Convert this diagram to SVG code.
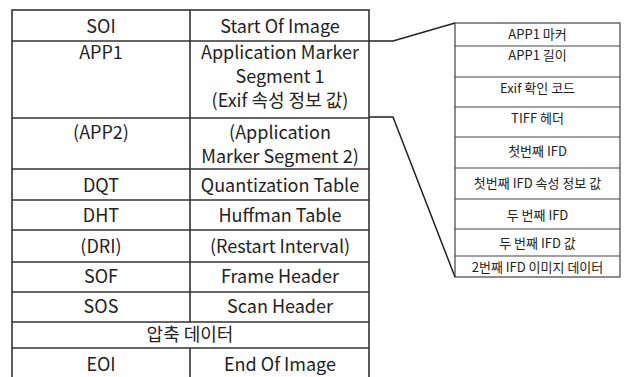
<svg xmlns="http://www.w3.org/2000/svg" width="624" height="377" viewBox="0 0 624 377">
<style>
.bg{fill:#fff}
.tl{fill:none;stroke:#333;stroke-width:1.6}
.tr{fill:none;stroke:#444;stroke-width:1.2}
.t{font-family:"Noto Sans CJK KR","Noto Sans",sans-serif;font-size:18px;fill:#222;text-anchor:middle}
.s{font-family:"Noto Sans CJK KR","Noto Sans",sans-serif;font-size:13px;fill:#222;text-anchor:middle}
.c{fill:none;stroke:#222;stroke-width:1.5}
</style>
<rect class="bg" width="624" height="377"/>
<g id="left-table">
<rect class="tl" x="12" y="10" width="357" height="380"/>
<path class="tl" d="M190 10V322M190 348V390M12 41H369M12 118H369M12 169H369M12 200H369M12 230H369M12 262H369M12 292H369M12 322H369M12 348H369"/>
</g>
<g id="soi"><text class="t" x="101" y="33">SOI</text><text class="t" x="280" y="33">Start Of Image</text></g>
<g id="app1"><text class="t" x="101" y="59">APP1</text><text class="t" x="280" y="59">Application Marker</text><text class="t" x="280" y="83">Segment 1</text><text class="t" x="280" y="107">(Exif 속성 정보 값)</text></g>
<g id="app2"><text class="t" x="101" y="139">(APP2)</text><text class="t" x="280" y="139">(Application</text><text class="t" x="280" y="163">Marker Segment 2)</text></g>
<g id="dqt"><text class="t" x="101" y="192">DQT</text><text class="t" x="280" y="192">Quantization Table</text></g>
<g id="dht"><text class="t" x="101" y="222">DHT</text><text class="t" x="280" y="222">Huffman Table</text></g>
<g id="dri"><text class="t" x="101" y="253">(DRI)</text><text class="t" x="280" y="253">(Restart Interval)</text></g>
<g id="sof"><text class="t" x="101" y="283">SOF</text><text class="t" x="280" y="283">Frame Header</text></g>
<g id="sos"><text class="t" x="101" y="313">SOS</text><text class="t" x="280" y="313">Scan Header</text></g>
<g id="data"><text class="t" x="190" y="341">압축 데이터</text></g>
<g id="eoi"><text class="t" x="101" y="371">EOI</text><text class="t" x="280" y="371">End Of Image</text></g>
<g id="right-table">
<rect class="tr" x="455" y="23" width="165" height="254"/>
<path class="tr" d="M455 46H620M455 77H620M455 107H620M455 137H620M455 168H620M455 199H620M455 229H620M455 256H620"/>
<text class="s" x="537.5" y="39">APP1 마커</text>
<text class="s" x="537.5" y="60">APP1 길이</text>
<text class="s" x="537.5" y="93">Exif 확인 코드</text>
<text class="s" x="537.5" y="123">TIFF 헤더</text>
<text class="s" x="537.5" y="156">첫번째 IFD</text>
<text class="s" x="537.5" y="188">첫번째 IFD 속성 정보 값</text>
<text class="s" x="537.5" y="220">두 번째 IFD</text>
<text class="s" x="537.5" y="248">두 번째 IFD 값</text>
<text class="s" x="537.5" y="272">2번째 IFD 이미지 데이터</text>
</g>
<g id="connectors">
<path class="c" d="M369 41H393L455 23"/>
<path class="c" d="M369 117H393L455 277"/>
</g>
</svg>
